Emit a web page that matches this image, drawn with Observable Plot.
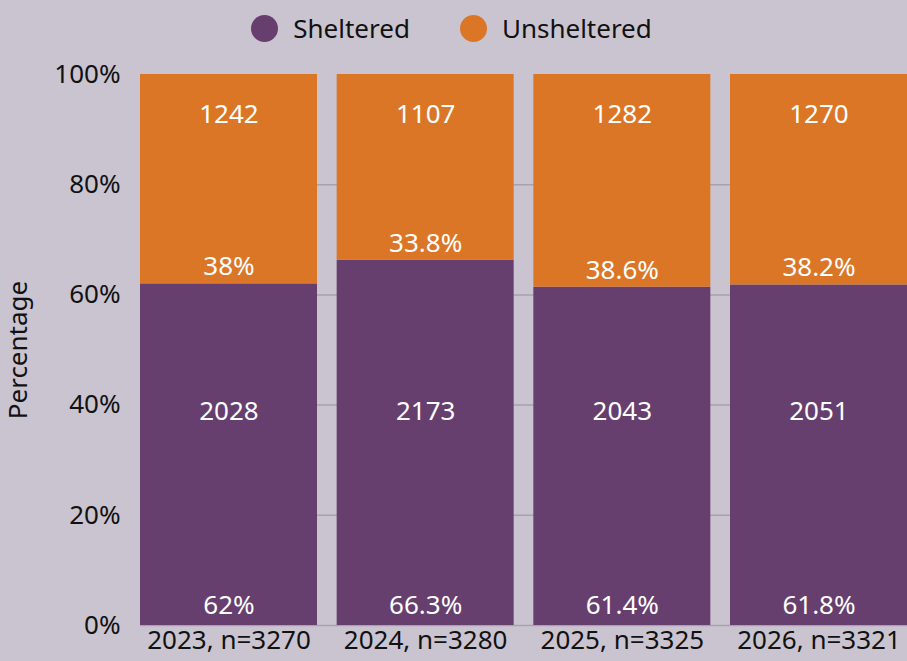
<!DOCTYPE html>
<html>
<head>
<meta charset="utf-8">
<script src="https://cdn.jsdelivr.net/npm/d3@7"></script>
<script src="https://cdn.jsdelivr.net/npm/@observablehq/plot@0.6"></script>
<style>
  html, body { margin: 0; padding: 0; background: #cac4d0; }
  body { width: 907px; height: 661px; overflow: hidden; font-family: "Noto Sans", sans-serif; }
  #legend { height: 56px; display: flex; justify-content: center; align-items: center; font-size: 26px; color: #111; box-sizing: border-box; padding-right: 4px; }
  .item { display: flex; align-items: center; margin: 0 25px; }
  .sw { width: 27px; height: 27px; border-radius: 50%; display: inline-block; margin-right: 15px; }
</style>
</head>
<body>
<div id="legend"></div>
<div id="chart"></div>
<script>
const years = ["2023", "2024", "2025", "2026"];
const nTotals = [3270, 3280, 3325, 3321];
const shelteredCounts = [2028, 2173, 2043, 2051];
const unshelteredCounts = [1242, 1107, 1282, 1270];
const shelteredPct = [62, 66.3, 61.4, 61.8];
const unshelteredPct = [38, 33.8, 38.6, 38.2];
const seriesNames = ["Sheltered", "Unsheltered"];
const seriesColors = ["#663f6f", "#dc7627"];
const yTicks = [0, 20, 40, 60, 80, 100];

const data = years.map((y, i) => ({
  label: `${y}, n=${nTotals[i]}`,
  sPct: shelteredPct[i],
  uPct: unshelteredPct[i],
  sCount: shelteredCounts[i],
  uCount: unshelteredCounts[i],
  top: 100
}));

// legend
const legend = document.getElementById("legend");
seriesNames.forEach((name, i) => {
  const item = document.createElement("span");
  item.className = "item";
  item.innerHTML = `<span class="sw" style="background:${seriesColors[i]}"></span><span>${name}</span>`;
  legend.appendChild(item);
});

const chart = Plot.plot({
  width: 907,
  height: 605,
  marginTop: 18,
  marginBottom: 36,
  marginLeft: 140,
  marginRight: 0,
  style: { fontFamily: "Noto Sans, sans-serif", fontSize: "26px", color: "#111", background: "transparent" },
  x: { domain: data.map(d => d.label), paddingInner: 0.1, paddingOuter: 0, round: false, label: null, tickSize: 0, tickPadding: 5 },
  y: { domain: [0, 100], ticks: yTicks, tickFormat: d => d + "%", label: "Percentage", labelAnchor: "center", labelArrow: "none", labelOffset: 132, tickSize: 0, tickPadding: 20 },
  marks: [
    Plot.gridY(yTicks.slice(0, 5), { stroke: "#a8a2ae", strokeOpacity: 1, strokeWidth: 1.5 }),
    Plot.barY(data, { x: "label", y1: 0, y2: "sPct", fill: seriesColors[0] }),
    Plot.barY(data, { x: "label", y1: "sPct", y2: "top", fill: seriesColors[1] }),
    Plot.text(data, { x: "label", y: 0, text: d => d.sPct + "%", fill: "white", fontSize: 26, dy: -20 }),
    Plot.text(data, { x: "label", y: "sPct", text: d => d.uPct + "%", fill: "white", fontSize: 26, dy: -17 }),
    Plot.text(data, { x: "label", y: 38.8, text: d => String(d.sCount), fill: "white", fontSize: 26 }),
    Plot.text(data, { x: "label", y: 92.7, text: d => String(d.uCount), fill: "white", fontSize: 26 })
  ]
});
document.getElementById("chart").appendChild(chart);
</script>
</body>
</html>
